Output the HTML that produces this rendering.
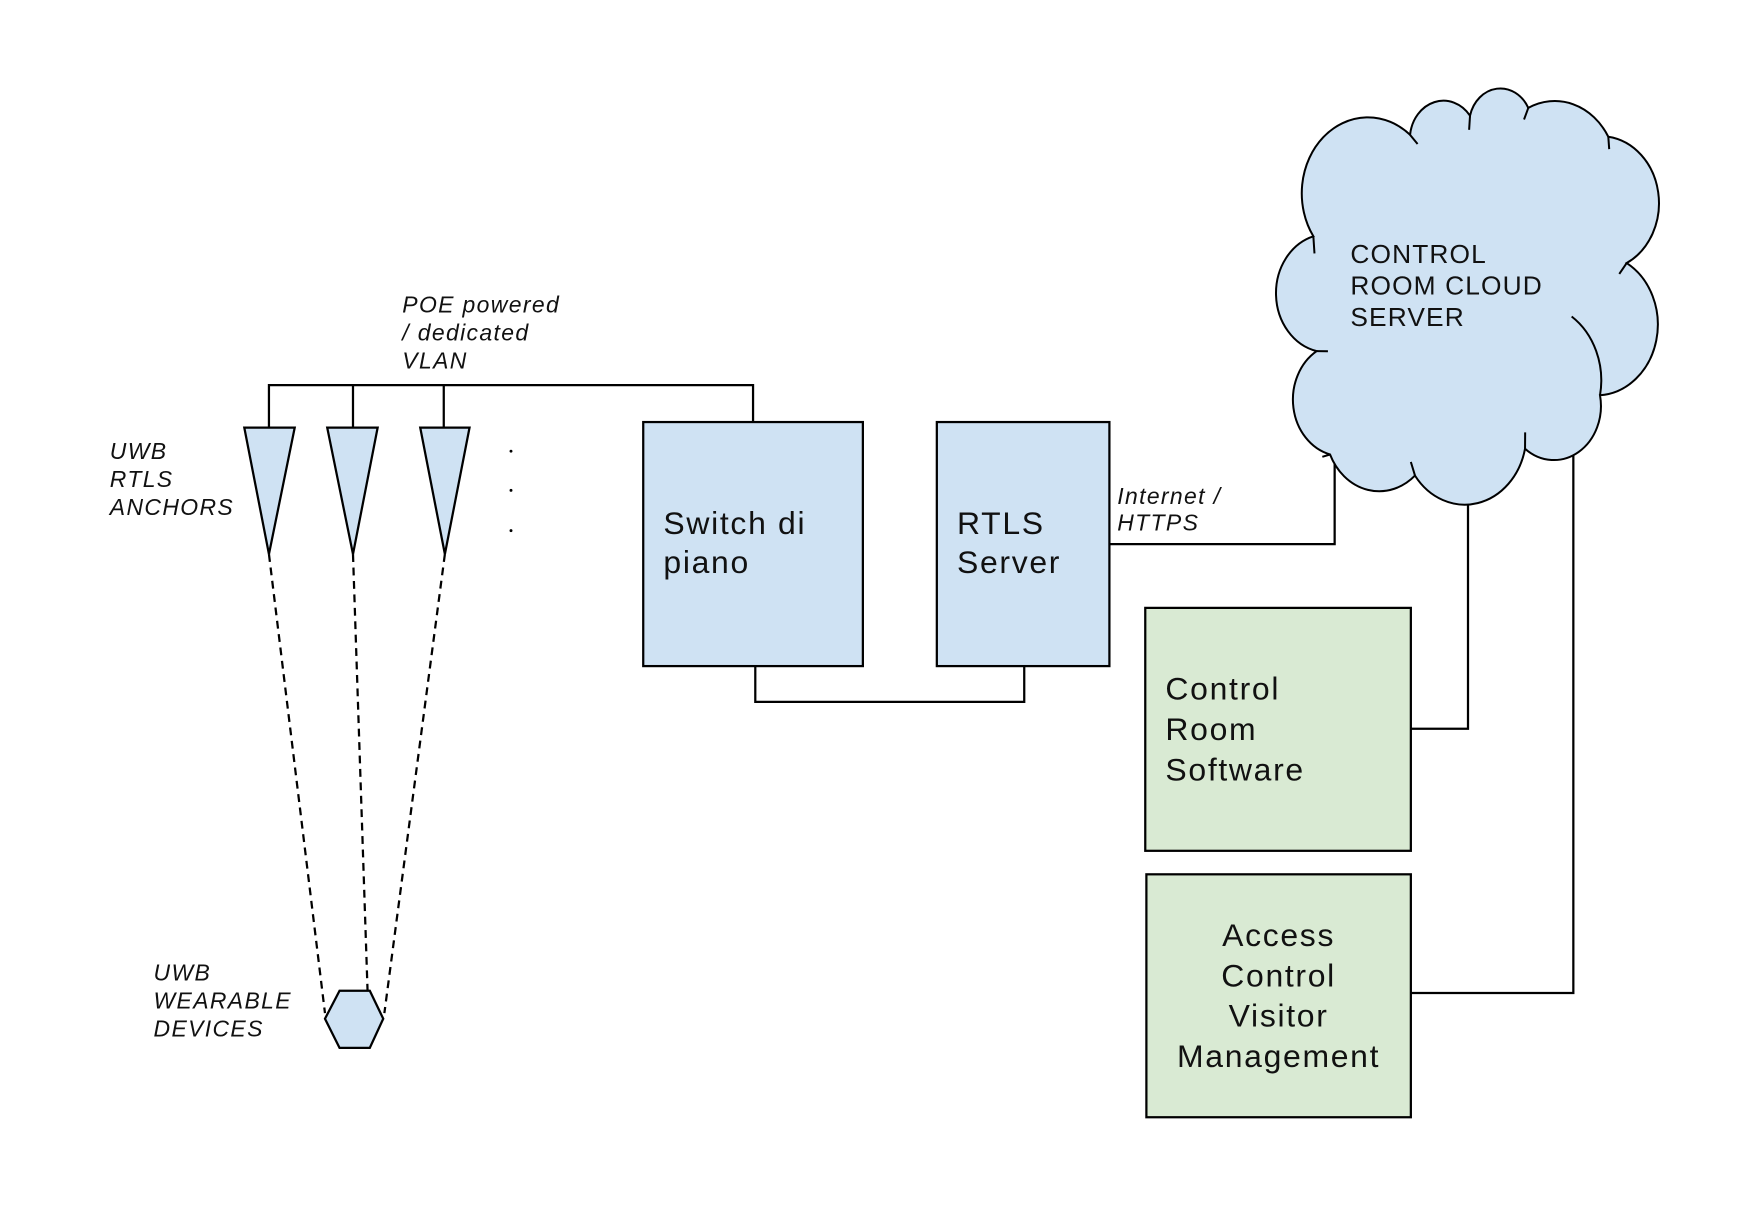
<!DOCTYPE html>
<html><head><meta charset="utf-8"><style>
html,body{margin:0;padding:0;background:#fff;width:1756px;height:1218px;overflow:hidden}
svg{display:block}
text{font-family:"Liberation Sans",Arial,sans-serif;fill:#111}
.i{font-style:italic;font-size:20.5px;letter-spacing:1.2px}
.b{font-size:28.5px;letter-spacing:1.5px}
.c{font-size:23.5px;letter-spacing:1px}
</style></head><body>
<svg width="1756" height="1218" viewBox="0 0 1567 1088" preserveAspectRatio="none" xmlns="http://www.w3.org/2000/svg">
<g fill="none" stroke="#000" stroke-width="2">
<path d="M240,382 V344 H672 V377 M315,344 V382 M396,344 V382"/>
<path d="M674,595 V627 H914 V595"/>
<path d="M990,486 H1191 V380"/>
<path d="M1259,651 H1310 V420"/>
<path d="M1259,887 H1404 V380"/>
<path stroke-dasharray="7,5" d="M240,495 L290,905 M315,495 L328,885 M397,495 L343,905"/>
</g>
<g fill="#cfe2f3" stroke="#000" stroke-width="2">
<path d="M218,382 H263 L240,495 Z M292,382 H337 L315,495 Z M375,382 H419 L397,495 Z"/>
<path d="M303,885 H330 L342,910 L330,936 H303 L290,910 Z"/>
<rect x="574" y="377" width="196" height="218"/>
<rect x="836" y="377" width="154" height="218"/>
</g>
<g transform="translate(0,78) scale(1,1.15) translate(0,-97)">
<path fill="#cfe2f3" stroke="#000" stroke-width="2" vector-effect="non-scaling-stroke" d="M1172,212.7 A59,59 0 0 1 1258.3,133.9 A30,30 0 0 1 1311.8,119 A28,28 0 0 1 1363.8,113 A55,55 0 0 1 1435.2,135.4 A52,52 0 0 1 1451.6,233.5 A55,55 0 0 1 1427.8,336.2 A42,42 0 0 1 1360.9,377.7 A55,55 0 0 1 1262.7,398.6 A48,48 0 0 1 1186.9,382.2 A44,44 0 0 1 1175,301.9 A46,46 0 0 1 1172,212.7 Z"/>
<path fill="none" stroke="#000" stroke-width="2" vector-effect="non-scaling-stroke" d="M1402.5,275 A60,60 0 0 1 1427.8,336.2"/>
<path fill="none" stroke="#000" stroke-width="2" vector-effect="non-scaling-stroke" d="M1258.3,133.9 L1265,141 M1311.8,119 L1311,130 M1363.8,113 L1360,122 M1435.2,135.4 L1436,145 M1451.6,233.5 L1445,242 M1360.9,377.7 L1361,365 M1262.7,398.6 L1259,388 M1186.9,382.2 L1180,384 M1175,301.9 L1185,302 M1172,212.7 L1173,226"/>
</g>
<g fill="#000">
<circle cx="456" cy="403" r="1.3"/><circle cx="456" cy="438" r="1.3"/><circle cx="456" cy="474" r="1.3"/>
</g>
<g fill="#d9ead3" stroke="#000" stroke-width="2">
<rect x="1022" y="543" width="237" height="217"/>
<rect x="1023" y="781" width="236" height="217"/>
</g>
<text class="i" x="359" y="279">POE powered</text>
<text class="i" x="359" y="304">/ dedicated</text>
<text class="i" x="359" y="329">VLAN</text>
<text class="i" x="98" y="410">UWB</text>
<text class="i" x="98" y="435">RTLS</text>
<text class="i" x="98" y="460">ANCHORS</text>
<text class="i" x="137" y="876">UWB</text>
<text class="i" x="137" y="901">WEARABLE</text>
<text class="i" x="137" y="926">DEVICES</text>
<text class="i" x="997" y="450">Internet /</text>
<text class="i" x="997" y="474">HTTPS</text>
<text class="b" x="592" y="477">Switch di</text>
<text class="b" x="592" y="512">piano</text>
<text class="b" x="854" y="477">RTLS</text>
<text class="b" x="854" y="512">Server</text>
<text class="c" x="1205" y="235">CONTROL</text>
<text class="c" x="1205" y="263">ROOM CLOUD</text>
<text class="c" x="1205" y="291">SERVER</text>
<text class="b" x="1040" y="625">Control</text>
<text class="b" x="1040" y="661">Room</text>
<text class="b" x="1040" y="697">Software</text>
<g text-anchor="middle">
<text class="b" x="1141" y="845">Access</text>
<text class="b" x="1141" y="881">Control</text>
<text class="b" x="1141" y="917">Visitor</text>
<text class="b" x="1141" y="953">Management</text>
</g>
</svg>
</body></html>
